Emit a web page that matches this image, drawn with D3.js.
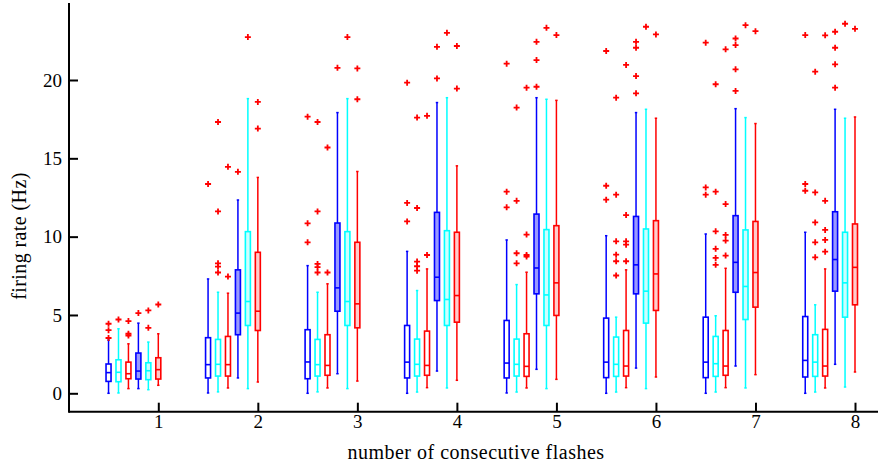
<!DOCTYPE html>
<html>
<head>
<meta charset="utf-8">
<script src="https://cdn.jsdelivr.net/npm/d3@7"></script>
<style>
  html, body { margin: 0; padding: 0; background: #fff; }
  svg { display: block; }
  text { font-family: "Liberation Serif", "DejaVu Serif", serif; fill: #000; }
</style>
</head>
<body>
<svg id="chart" width="878" height="468"></svg>
<script>
// ---------- data ----------
const categories = [1, 2, 3, 4, 5, 6, 7, 8];
const xTickLabels = ["1", "2", "3", "4", "5", "6", "7", "8"];
const yTickValues = [0, 5, 10, 15, 20];
const xTitle = "number of consecutive flashes";
const yTitle = "firing rate (Hz)";

// series order within each group: blue open, cyan open, red open, blue filled, cyan filled, red filled
const seriesOffsets = [-0.5, -0.4, -0.3, -0.2, -0.1, 0];

const whiskerLow = [
  [0, 0.02, 0, 0, 0.02, 0, 0, 0],
  [0.02, 0.09, 0.09, 0.08, 0.08, 0.08, 0.08, 0.08],
  [0.3, 0.34, 0.34, 0.36, 0.34, 0.36, 0.36, 0.34],
  [0.3, 0.98, 1.25, 1.42, 1.53, 1.61, 1.74, 1.85],
  [0.23, 0.3, 0.3, 0.34, 0.3, 0.3, 0.34, 0.4],
  [0.51, 0.72, 0.78, 0.83, 0.89, 1.04, 1.19, 1.36]
];
const quart1 = [
  [0.76, 0.98, 0.93, 0.98, 0.98, 1.0, 1.0, 1.04],
  [0.74, 1.10, 1.10, 1.10, 1.10, 1.08, 1.08, 1.08],
  [0.93, 1.10, 1.15, 1.15, 1.08, 1.10, 1.15, 1.10],
  [0.91, 3.74, 5.24, 5.92, 6.35, 6.35, 6.45, 6.52],
  [0.87, 4.33, 4.33, 4.33, 4.33, 4.48, 4.71, 4.86],
  [0.91, 4.01, 4.18, 4.54, 4.97, 5.29, 5.5, 5.65]
];
const medians = [
  [1.32, 1.83, 2.0, 1.99, 1.93, 1.99, 1.99, 2.10],
  [1.34, 1.85, 1.83, 1.85, 1.85, 1.85, 1.89, 1.99],
  [1.25, 1.83, 1.78, 1.78, 1.72, 1.74, 1.74, 1.74],
  [1.42, 5.12, 6.73, 7.41, 8.0, 8.2, 8.36, 8.54],
  [1.44, 5.86, 5.86, 5.99, 6.28, 6.52, 6.82, 7.05],
  [1.51, 5.24, 5.71, 6.24, 7.05, 7.62, 7.71, 8.04]
];
const quart3 = [
  [1.87, 3.55, 4.06, 4.33, 4.65, 4.80, 4.86, 4.90],
  [2.14, 3.44, 3.44, 3.46, 3.46, 3.59, 3.63, 3.74],
  [1.99, 3.63, 3.74, 3.97, 3.80, 4.01, 4.01, 4.08],
  [2.57, 7.88, 10.87, 11.55, 11.44, 11.29, 11.34, 11.59],
  [1.95, 10.32, 10.32, 10.38, 10.45, 10.49, 10.43, 10.28],
  [2.27, 9.0, 9.64, 10.28, 10.7, 11.02, 10.97, 10.81]
];
const whiskerHigh = [
  [3.4, 7.30, 8.15, 9.06, 9.79, 10.06, 10.17, 10.28],
  [4.12, 6.45, 6.45, 6.56, 6.94, 4.86, 4.95, 5.65],
  [3.16, 6.39, 6.99, 7.94, 7.73, 7.88, 7.98, 7.94],
  [4.48, 12.34, 17.92, 18.56, 18.87, 17.92, 18.17, 18.13],
  [3.27, 18.81, 18.81, 18.87, 18.77, 18.13, 17.6, 17.56],
  [3.80, 13.78, 14.16, 14.52, 18.7, 17.56, 17.22, 17.64]
];
const outliers = [
  [[3.53, 4.03, 4.44], [13.36], [9.64, 10.85, 17.66], [10.97, 12.15, 19.83], [11.87, 12.87, 21.04], [12.36, 13.25, 21.85], [12.68, 13.14, 22.38], [12.93, 13.36, 22.87]],
  [[4.71], [7.71, 8.09, 8.30, 11.61, 17.32], [7.71, 8.05, 8.26, 11.61, 17.32], [7.83, 8.11, 8.41, 11.83, 17.6], [8.30, 8.94, 12.29, 18.24], [7.52, 8.43, 8.85, 9.70, 12.68, 18.87], [8.2, 8.64, 9.22, 10.34, 12.87, 19.73], [8.68, 9.64, 10.91, 12.82, 20.53]],
  [[3.69, 3.80, 4.61], [7.45, 14.46], [7.71, 15.69], [8.83, 17.71], [8.73, 8.83, 10.13, 19.51], [8.43, 9.49, 9.70, 11.38, 20.96], [8.79, 9.75, 10.11, 12.08, 21.96], [9.04, 9.79, 10.43, 12.29, 22.85]],
  [[5.12], [14.14], [20.78], [20.1, 22.12], [19.57, 21.27, 22.44], [19.15, 20.25, 22.06, 22.44], [19.3, 20.68, 22.23, 22.65], [19.51, 21.0, 22.06, 23.08]],
  [[4.18, 5.29], [22.74], [22.74], [23.01], [23.33], [23.4], [23.5], [23.59]],
  [[5.67], [16.9, 18.6], [18.77, 20.74], [19.45, 22.17], [22.87], [22.91], [23.12], [23.27]]
];

// ---------- styles ----------
const strokeColors = ["#0000ff", "#00ffff", "#ff0000", "#0000ff", "#00ffff", "#ff0000"];
const fillColors = ["#ffffff", "#ffffff", "#ffffff", "#9999ff", "#ccffff", "#ffcccc"];
const outlierColor = "#ff0000";

// ---------- layout ----------
const svg = d3.select("#chart");
const frame = { left: 69, right: 878, top: 3, bottom: 411.7 };
const x = d3.scaleLinear().domain([1, 8]).range([158.3, 855]);
const y = d3.scaleLinear().domain([0, 20]).range([393.3, 80]);
const boxW = 5;

const g = svg.append("g");

// boxes
seriesOffsets.forEach((off, s) => {
  categories.forEach((c, i) => {
    const cx = x(c + off);
    const col = strokeColors[s];
    const bg = g.append("g");
    bg.append("line").attr("x1", cx).attr("x2", cx)
      .attr("y1", y(whiskerLow[s][i])).attr("y2", y(quart1[s][i]))
      .attr("stroke", col).attr("stroke-width", 1.5);
    bg.append("line").attr("x1", cx).attr("x2", cx)
      .attr("y1", y(quart3[s][i])).attr("y2", y(whiskerHigh[s][i]))
      .attr("stroke", col).attr("stroke-width", 1.5);
    [whiskerLow[s][i], whiskerHigh[s][i]].forEach(v => {
      bg.append("line").attr("x1", cx - 1.2).attr("x2", cx + 1.2)
        .attr("y1", y(v)).attr("y2", y(v))
        .attr("stroke", col).attr("stroke-width", 1.5);
    });
    bg.append("rect")
      .attr("x", cx - boxW / 2).attr("width", boxW)
      .attr("y", y(quart3[s][i])).attr("height", y(quart1[s][i]) - y(quart3[s][i]))
      .attr("fill", fillColors[s]).attr("stroke", col).attr("stroke-width", 1.6);
    bg.append("line").attr("x1", cx - boxW / 2).attr("x2", cx + boxW / 2)
      .attr("y1", y(medians[s][i])).attr("y2", y(medians[s][i]))
      .attr("stroke", col).attr("stroke-width", 1.6);
  });
});

// outliers
const plusSize = 3;
seriesOffsets.forEach((off, s) => {
  categories.forEach((c, i) => {
    const cx = x(c + off);
    outliers[s][i].forEach(v => {
      const cy = y(v);
      g.append("path")
        .attr("d", `M${cx - plusSize},${cy}H${cx + plusSize}M${cx},${cy - plusSize}V${cy + plusSize}`)
        .attr("stroke", outlierColor).attr("stroke-width", 1.8).attr("fill", "none");
    });
  });
});

// axes
const xAxis = d3.axisBottom(x).tickValues(categories).tickFormat((d, i) => xTickLabels[i])
  .tickSizeInner(-9).tickSizeOuter(0).tickPadding(3);
const gx = svg.append("g").attr("transform", `translate(0,${frame.bottom})`).call(xAxis);
gx.select(".domain").remove();
gx.selectAll(".tick line").attr("stroke", "#000").attr("stroke-width", 2);
gx.selectAll(".tick text").attr("font-size", 19).attr("font-family", "Liberation Serif").attr("fill", "#000");

const yAxis = d3.axisLeft(y).tickValues(yTickValues).tickSizeInner(-9).tickSizeOuter(0).tickPadding(7);
const gy = svg.append("g").attr("transform", `translate(${frame.left},0)`).call(yAxis);
gy.select(".domain").remove();
gy.selectAll(".tick line").attr("stroke", "#000").attr("stroke-width", 2);
gy.selectAll(".tick text").attr("font-size", 19).attr("font-family", "Liberation Serif").attr("fill", "#000");

svg.append("line").attr("x1", frame.left).attr("x2", frame.right)
  .attr("y1", frame.bottom).attr("y2", frame.bottom).attr("stroke", "#000").attr("stroke-width", 2);
svg.append("line").attr("x1", frame.left).attr("x2", frame.left)
  .attr("y1", frame.top).attr("y2", frame.bottom + 1).attr("stroke", "#000").attr("stroke-width", 2);

// titles
svg.append("text").attr("x", 476).attr("y", 459).attr("text-anchor", "middle")
  .attr("font-size", 20).attr("letter-spacing", 0.5).text(xTitle);
svg.append("text").attr("transform", "translate(26,236) rotate(-90)").attr("text-anchor", "middle")
  .attr("font-size", 20).attr("letter-spacing", 0.4).text(yTitle);
</script>
</body>
</html>
